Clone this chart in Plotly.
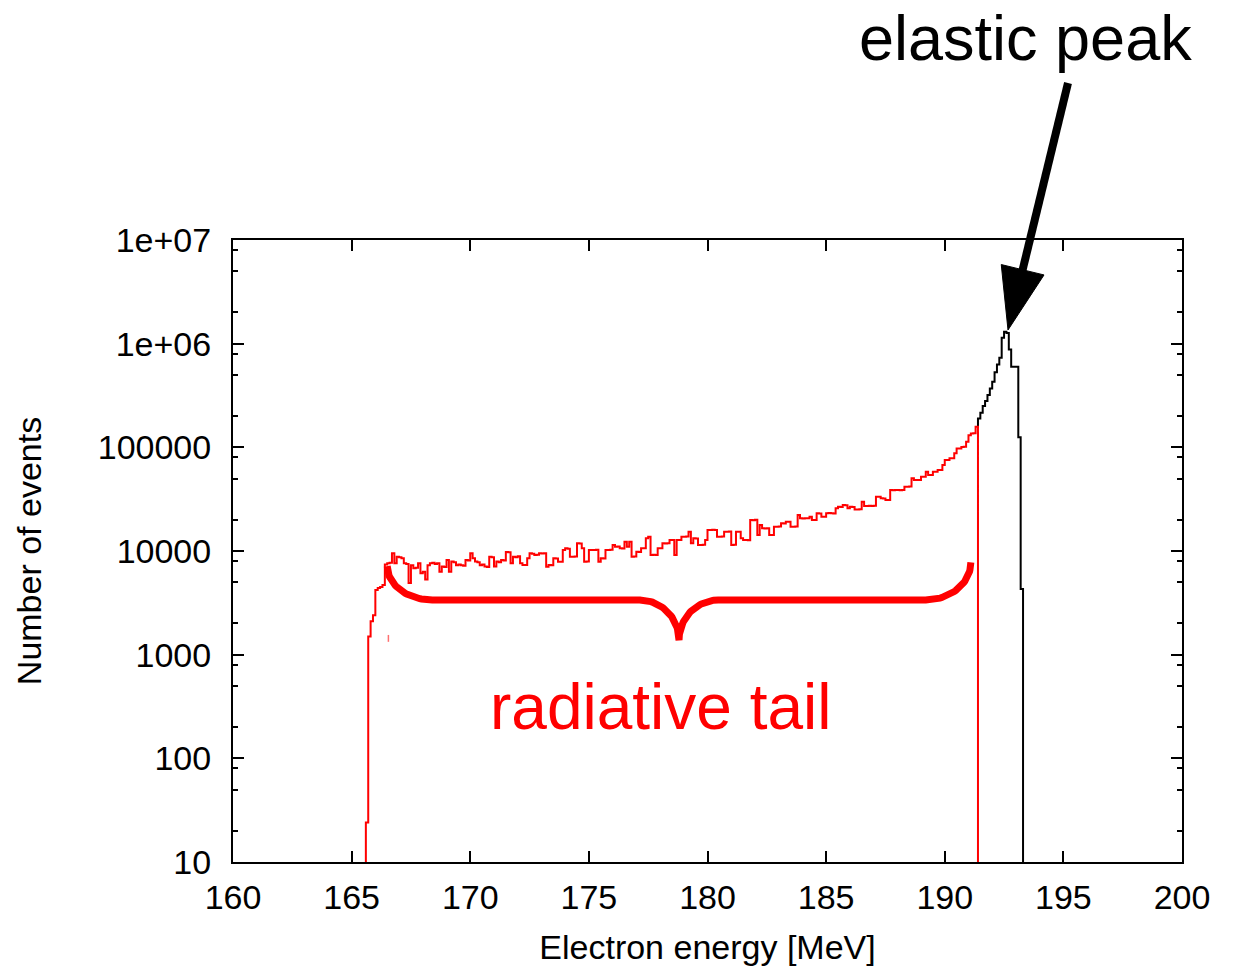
import numpy as np
import plotly.graph_objects as go

# ---------------- data ----------------
bin_width = 0.1                     # MeV
red_start = 165.6                   # MeV, first edge of the radiative-tail histogram
red_counts = [
    24, 1500, 2100, 2400, 4200, 4400, 4500, 4700, 7400, 7600,
    7700, 9500, 7600, 8800, 8700, 8500, 7600, 7500, 4900, 7300,
    6800, 6900, 7600, 6100, 6300, 5300, 7300, 7600, 7700, 7500,
    7600, 6300, 7100, 7000, 8200, 6300, 7900, 7800, 7300, 7400,
    7300, 7200, 8200, 8100, 9500, 8500, 7900, 7800, 7300, 7400,
    7100, 7000, 8800, 8700, 7100, 7900, 7800, 8200, 8100, 9800,
    9700, 7600, 8800, 8700, 8900,
    7600, 7330, 7330, 8490, 9500, 9400, 9150, 9200, 9500, 9450,
    9500, 7060, 7330, 7300, 8490, 8450, 7890, 7890, 10230, 10610,
    10500, 8810, 8800, 8850, 11860, 11800, 10610, 7890, 7900, 10230,
    10200, 10250, 10300, 7890, 8490, 8450, 10230, 10200, 10300, 11430,
    11000, 11050, 10610, 10600, 12300, 11000, 12300, 8810, 8850, 9850,
    9800, 10610, 10650, 13250, 13700, 9150, 9200, 9150, 10610, 10650,
    11860, 11800, 11900, 12770, 12800,
    9150, 12770, 12800, 13740, 13700, 13800, 15360, 11860, 13250, 13200,
    11430, 11400, 11500, 12770, 15940, 15900, 16000, 15940, 13740, 13700,
    13800, 15360, 15300, 15400, 11430, 11500, 15360, 15300, 13250, 12770,
    12800, 12700, 19900, 19800, 20000, 14260, 17820, 16560, 16500, 16600,
    14260, 14300, 17150, 17100, 17200, 18500, 18400, 19190, 19200, 17150,
    17100, 17200, 22250, 20650, 20600, 20700, 20650, 21400, 19900, 19950,
    23100, 23000, 21400, 21450, 23100, 23200,
    23100, 23000, 25800, 26700, 26600, 27800, 27700, 25800, 26700, 26600,
    25200, 25100, 25300, 29900, 27200, 27100, 27300, 27200, 27300, 33400,
    33300, 32200, 32100, 31000, 31100, 38700, 38600, 38800, 38700, 38600,
    38800, 41700, 41600, 41800, 50200, 48400, 48300, 48500, 52100, 52000,
    58200, 54100, 54000, 58200, 58100, 60400, 60500, 67500, 75500, 75400,
    78300, 78400, 87500, 97700, 97600, 101000, 101500, 113000, 131000, 136000,
    136500, 158000,
]
black_start = 191.4                 # MeV, elastic-peak histogram
black_counts = [190000, 215000, 250000, 280000, 320000, 370000, 430000, 530000,
                630000, 730000, 1140000, 1300000, 1270000, 880000, 600000,
                600000, 600000, 125000, 4300]

x_ticks = [160, 165, 170, 175, 180, 185, 190, 195, 200]
y_ticks = [10, 100, 1000, 10000, 100000, 1000000, 10000000]
y_ticktext = ["10", "100", "1000", "10000", "100000", "1e+06", "1e+07"]
y_minor = [m * 10 ** k for k in range(1, 7) for m in (2, 5, 8)]

Y_FLOOR = 10  # bottom of the log axis


def step_path(start, counts, base_left, base_right):
    edges = start + bin_width * np.arange(len(counts) + 1)
    xs = [edges[0], edges[0]] + list(edges[1:len(counts)]) + [edges[-1], edges[-1]]
    ys = [base_left, counts[0]] + list(counts[1:]) + [counts[-1], base_right]
    return xs, ys


rx, ry = step_path(red_start, red_counts, Y_FLOOR, Y_FLOOR)
bx, by = step_path(black_start, black_counts, red_counts[-1], Y_FLOOR)

fig = go.Figure()
fig.add_trace(go.Scatter(x=bx, y=by, mode="lines", line=dict(color="black", width=2, shape="hv"),
                         hoverinfo="skip", showlegend=False))
fig.add_trace(go.Scatter(x=rx, y=ry, mode="lines", line=dict(color="#ff0000", width=2, shape="hv"),
                         hoverinfo="skip", showlegend=False))

# ---------------- curly brace (decoration, in data space: MeV, log10 counts) ----------------
def arc(cx, cl, ax, al, a0, a1, n=40):
    t = np.radians(np.linspace(a0, a1, n))
    return cx + ax * np.cos(t), cl + al * np.sin(t)

parts = [
    arc(168.4, 3.855, 1.9, 0.328, 180, 270),
    (np.array([168.4, 177.15]), np.array([3.527, 3.527])),
    arc(177.15, 3.14, 1.65, 0.387, 90, 0),
    arc(180.45, 3.14, 1.65, 0.387, 180, 90),
    (np.array([180.45, 189.2]), np.array([3.527, 3.527])),
    arc(189.2, 3.89, 1.9, 0.363, 270, 360),
]
brace_x = np.concatenate([p[0] for p in parts])
brace_y = 10 ** np.concatenate([p[1] for p in parts])
fig.add_trace(go.Scatter(x=brace_x, y=brace_y, mode="lines",
                         line=dict(color="#ff0000", width=7),
                         hoverinfo="skip", showlegend=False))
fig.add_trace(go.Scatter(x=[166.55, 166.55], y=[1330, 1550], mode="lines",
                         line=dict(color="#ff7070", width=1.5),
                         hoverinfo="skip", showlegend=False))

# ---------------- layout ----------------
W, H = 1236, 973
L, R, T, B = 233, 54, 240, 111
PW, PH = W - L - R, H - T - B


def paper(px, py):
    return (px - L) / PW, (H - B - py) / PH


FONT = "Liberation Sans, Arial, sans-serif"

# arrow towards the elastic peak (drawn in paper coordinates)
tail = np.array([1068.0, 83.0])
tip = np.array([1008.0, 330.0])
u = (tip - tail) / np.linalg.norm(tip - tail)
n = np.array([u[1], -u[0]])
base = tip - 62 * u
c1, c2 = base + 22 * n, base - 22 * n
shaft_end = base + 4 * u
p_tail, p_end = paper(*tail), paper(*shaft_end)
p_tip, p_c1, p_c2 = paper(*tip), paper(*c1), paper(*c2)

shapes = [
    dict(type="line", xref="paper", yref="paper", x0=p_tail[0], y0=p_tail[1],
         x1=p_end[0], y1=p_end[1], line=dict(color="black", width=8), layer="above"),
    dict(type="path", xref="paper", yref="paper",
         path=f"M{p_tip[0]},{p_tip[1]} L{p_c1[0]},{p_c1[1]} L{p_c2[0]},{p_c2[1]} Z",
         fillcolor="black", line=dict(color="black", width=1), layer="above"),
]

ax_common = dict(showgrid=False, zeroline=False, showline=True, linecolor="black", linewidth=2,
                 mirror="ticks", ticks="inside", tickcolor="black", tickwidth=2, ticklen=11,
                 tickfont=dict(family=FONT, size=34, color="black"))

fig.update_layout(
    width=W, height=H,
    margin=dict(l=L, r=R, t=T, b=B),
    paper_bgcolor="white", plot_bgcolor="white",
    shapes=shapes,
    xaxis=dict(range=[160, 200], tickmode="array", tickvals=x_ticks,
               ticklabelstandoff=4,
               title=dict(text="Electron energy [MeV]", font=dict(family=FONT, size=34, color="black"),
                          standoff=20),
               **ax_common),
    yaxis=dict(type="log", range=[1, 7], tickmode="array", tickvals=y_ticks, ticktext=y_ticktext,
               ticklabelstandoff=13,
               minor=dict(tickmode="array", tickvals=y_minor, ticks="inside", ticklen=5,
                          tickwidth=2, tickcolor="black", showgrid=False),
               title=dict(text="Number of events", font=dict(family=FONT, size=34, color="black"),
                          standoff=46),
               **ax_common),
    annotations=[
        dict(text="radiative tail", xref="paper", yref="paper",
             x=paper(661, 707)[0], y=paper(661, 707)[1], xanchor="center", yanchor="middle",
             showarrow=False, borderpad=0, font=dict(family=FONT, size=64, color="#ff0000")),
        dict(text="elastic peak", xref="paper", yref="paper",
             x=paper(1025, 38)[0], y=paper(1025, 38)[1], xanchor="center", yanchor="middle",
             showarrow=False, borderpad=0, font=dict(family=FONT, size=63, color="black")),
    ],
)

fig.write_html("out.html")
